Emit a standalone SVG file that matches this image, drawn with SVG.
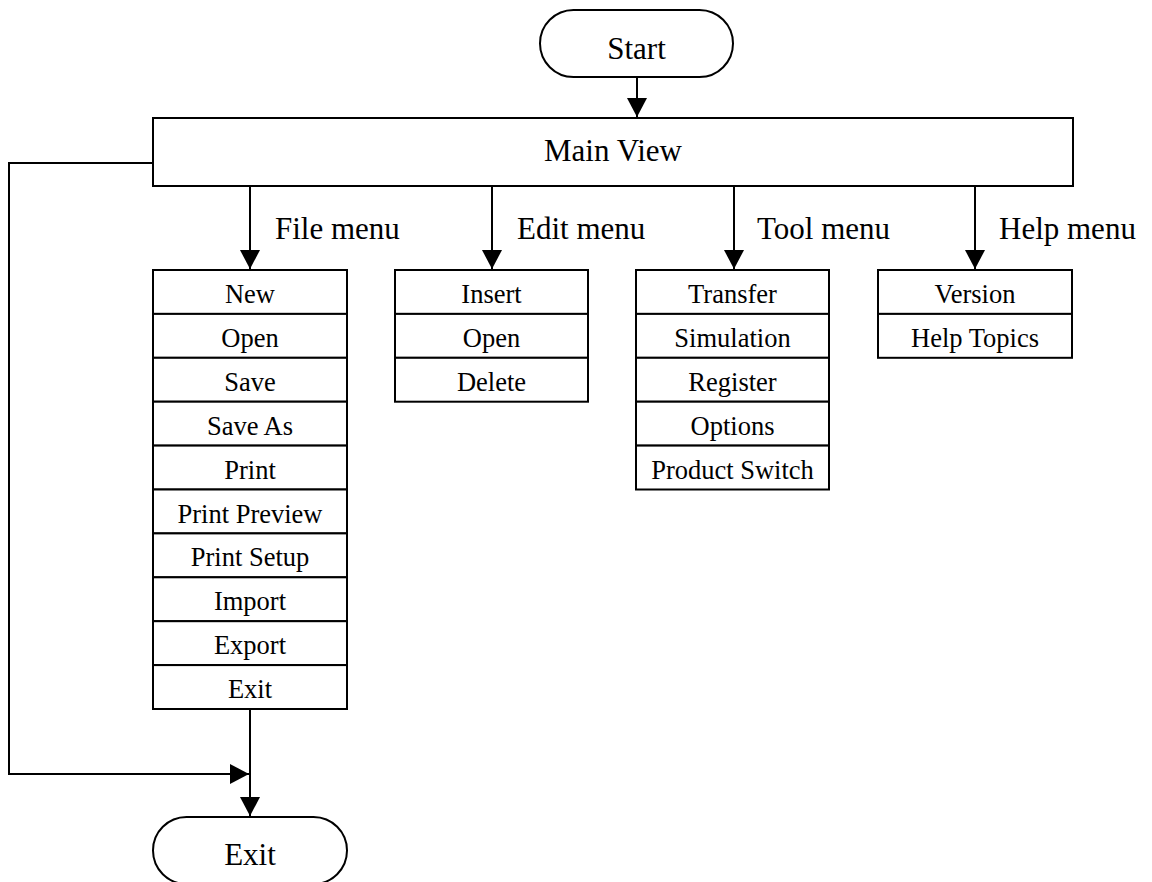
<svg xmlns="http://www.w3.org/2000/svg" width="1152" height="882" viewBox="0 0 1152 882">
<style>
.b{fill:#fff;stroke:#000;stroke-width:2}
.l{fill:none;stroke:#000;stroke-width:2}
.t{font-family:"Liberation Serif","Times New Roman",serif;font-size:31px;fill:#000}
.i{font-family:"Liberation Serif","Times New Roman",serif;font-size:26.5px;fill:#000;text-anchor:middle}
.c{text-anchor:middle}
</style>
<defs>
<marker id="ah" markerUnits="userSpaceOnUse" markerWidth="20" markerHeight="22" refX="19" refY="10" orient="auto">
<path d="M0,0 L19,10 L0,20 z" fill="#000"/>
</marker>
</defs>
<rect width="1152" height="882" fill="#fff"/>
<g id="connectors">
<path class="l" d="M637,77 V117" marker-end="url(#ah)"/>
<path class="l" d="M250,186 V269" marker-end="url(#ah)"/>
<path class="l" d="M492,186 V269" marker-end="url(#ah)"/>
<path class="l" d="M734,186 V269" marker-end="url(#ah)"/>
<path class="l" d="M975,186 V269" marker-end="url(#ah)"/>
<path class="l" d="M250,709 V816" marker-end="url(#ah)"/>
<path class="l" d="M153,163 H9 V774 H249" marker-end="url(#ah)"/>
<text class="t" x="275" y="239">File menu</text>
<text class="t" x="517" y="239">Edit menu</text>
<text class="t" x="757" y="239">Tool menu</text>
<text class="t" x="999" y="239">Help menu</text>
</g>
<g id="start">
<rect class="b" x="540" y="10" width="193" height="67" rx="33.5"/>
<text class="t c" x="636.5" y="59">Start</text>
</g>
<g id="main-view">
<rect class="b" x="153" y="118" width="920" height="68"/>
<text class="t c" x="613" y="161">Main View</text>
</g>
<g id="file-menu">
<rect class="b" x="153" y="270" width="194" height="43.9"/>
<rect class="b" x="153" y="313.9" width="194" height="43.9"/>
<rect class="b" x="153" y="357.8" width="194" height="43.9"/>
<rect class="b" x="153" y="401.7" width="194" height="43.9"/>
<rect class="b" x="153" y="445.6" width="194" height="43.9"/>
<rect class="b" x="153" y="489.5" width="194" height="43.9"/>
<rect class="b" x="153" y="533.4" width="194" height="43.9"/>
<rect class="b" x="153" y="577.3" width="194" height="43.9"/>
<rect class="b" x="153" y="621.2" width="194" height="43.9"/>
<rect class="b" x="153" y="665.1" width="194" height="43.9"/>
<text class="i" x="250" y="303">New</text>
<text class="i" x="250" y="346.9">Open</text>
<text class="i" x="250" y="390.8">Save</text>
<text class="i" x="250" y="434.7">Save As</text>
<text class="i" x="250" y="478.6">Print</text>
<text class="i" x="250" y="522.5">Print Preview</text>
<text class="i" x="250" y="566.4">Print Setup</text>
<text class="i" x="250" y="610.3">Import</text>
<text class="i" x="250" y="654.2">Export</text>
<text class="i" x="250" y="698.1">Exit</text>
</g>
<g id="edit-menu">
<rect class="b" x="395" y="270" width="193" height="43.9"/>
<rect class="b" x="395" y="313.9" width="193" height="43.9"/>
<rect class="b" x="395" y="357.8" width="193" height="43.9"/>
<text class="i" x="491.5" y="303">Insert</text>
<text class="i" x="491.5" y="346.9">Open</text>
<text class="i" x="491.5" y="390.8">Delete</text>
</g>
<g id="tool-menu">
<rect class="b" x="636" y="270" width="193" height="43.9"/>
<rect class="b" x="636" y="313.9" width="193" height="43.9"/>
<rect class="b" x="636" y="357.8" width="193" height="43.9"/>
<rect class="b" x="636" y="401.7" width="193" height="43.9"/>
<rect class="b" x="636" y="445.6" width="193" height="43.9"/>
<text class="i" x="732.5" y="303">Transfer</text>
<text class="i" x="732.5" y="346.9">Simulation</text>
<text class="i" x="732.5" y="390.8">Register</text>
<text class="i" x="732.5" y="434.7">Options</text>
<text class="i" x="732.5" y="478.6">Product Switch</text>
</g>
<g id="help-menu">
<rect class="b" x="878" y="270" width="194" height="43.9"/>
<rect class="b" x="878" y="313.9" width="194" height="43.9"/>
<text class="i" x="975" y="303">Version</text>
<text class="i" x="975" y="346.9">Help Topics</text>
</g>
<g id="exit">
<rect class="b" x="153" y="817" width="194" height="67" rx="33.5"/>
<text class="t c" x="250" y="865">Exit</text>
</g>
</svg>
